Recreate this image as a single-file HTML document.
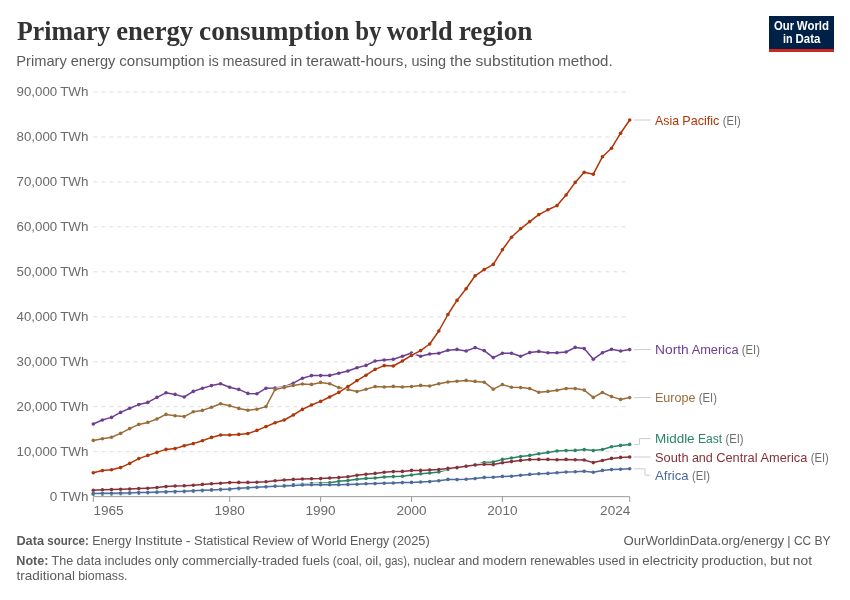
<!DOCTYPE html>
<html lang="en"><head><meta charset="utf-8"><title>Primary energy consumption by world region</title>
<style>html,body{margin:0;padding:0;background:#fff}svg{display:block}text{font-family:'Liberation Sans', sans-serif;white-space:pre}</style>
</head><body>
<svg width="850" height="600" viewBox="0 0 850 600">
<rect width="850" height="600" fill="#fff"/>
<text y="39.9" style="font-family:'Liberation Serif', serif"><tspan font-size="27" font-weight="700" fill="#333333"><tspan x="17.00" textLength="93.27" lengthAdjust="spacingAndGlyphs">Primary</tspan> <tspan x="116.22" textLength="76.91" lengthAdjust="spacingAndGlyphs">energy</tspan> <tspan x="199.08" textLength="150.27" lengthAdjust="spacingAndGlyphs">consumption</tspan> <tspan x="355.30" textLength="26.22" lengthAdjust="spacingAndGlyphs">by</tspan> <tspan x="386.78" textLength="65.94" lengthAdjust="spacingAndGlyphs">world</tspan> <tspan x="458.67" textLength="73.92" lengthAdjust="spacingAndGlyphs">region</tspan></tspan></text>
<text y="66.2"><tspan font-size="15" font-weight="400" fill="#5b5b5b"><tspan x="16.30" textLength="50.55" lengthAdjust="spacingAndGlyphs">Primary</tspan> <tspan x="70.69" textLength="44.67" lengthAdjust="spacingAndGlyphs">energy</tspan> <tspan x="119.21" textLength="85.53" lengthAdjust="spacingAndGlyphs">consumption</tspan> <tspan x="208.58" textLength="10.11" lengthAdjust="spacingAndGlyphs">is</tspan> <tspan x="222.53" textLength="64.05" lengthAdjust="spacingAndGlyphs">measured</tspan> <tspan x="290.43" textLength="11.98" lengthAdjust="spacingAndGlyphs">in</tspan> <tspan x="306.25" textLength="101.44" lengthAdjust="spacingAndGlyphs">terawatt-hours,</tspan> <tspan x="411.53" textLength="34.64" lengthAdjust="spacingAndGlyphs">using</tspan> <tspan x="450.02" textLength="21.67" lengthAdjust="spacingAndGlyphs">the</tspan> <tspan x="475.53" textLength="78.86" lengthAdjust="spacingAndGlyphs">substitution</tspan> <tspan x="558.24" textLength="54.41" lengthAdjust="spacingAndGlyphs">method.</tspan></tspan></text>
<g><rect x="769" y="16" width="65" height="36" fill="#002147"/><rect x="769" y="49" width="65" height="3" fill="#ce261e"/>
<text y="30.3"><tspan font-size="12" font-weight="700" fill="#ffffff"><tspan x="773.98" textLength="20.08" lengthAdjust="spacingAndGlyphs">Our</tspan> <tspan x="796.83" textLength="32.19" lengthAdjust="spacingAndGlyphs">World</tspan></tspan></text>
<text y="42.6"><tspan font-size="12" font-weight="700" fill="#ffffff"><tspan x="783.06" textLength="9.56" lengthAdjust="spacingAndGlyphs">in</tspan> <tspan x="795.47" textLength="24.88" lengthAdjust="spacingAndGlyphs">Data</tspan></tspan></text>
</g>
<g stroke="#ddd" stroke-width="1" stroke-dasharray="4 4" fill="none">
<line x1="93.5" y1="451.7" x2="629.7" y2="451.7"/>
<line x1="93.5" y1="406.7" x2="629.7" y2="406.7"/>
<line x1="93.5" y1="361.8" x2="629.7" y2="361.8"/>
<line x1="93.5" y1="316.8" x2="629.7" y2="316.8"/>
<line x1="93.5" y1="271.8" x2="629.7" y2="271.8"/>
<line x1="93.5" y1="226.9" x2="629.7" y2="226.9"/>
<line x1="93.5" y1="181.9" x2="629.7" y2="181.9"/>
<line x1="93.5" y1="137.0" x2="629.7" y2="137.0"/>
<line x1="93.5" y1="92.0" x2="629.7" y2="92.0"/>
</g>
<text y="500.5"><tspan font-size="13.4" font-weight="400" fill="#6a6a6a"><tspan x="49.67" textLength="7.55" lengthAdjust="spacingAndGlyphs">0</tspan> <tspan x="60.17" textLength="28.33" lengthAdjust="spacingAndGlyphs">TWh</tspan></tspan></text>
<text y="455.6"><tspan font-size="13.4" font-weight="400" fill="#6a6a6a"><tspan x="16.56" textLength="40.66" lengthAdjust="spacingAndGlyphs">10,000</tspan> <tspan x="60.17" textLength="28.33" lengthAdjust="spacingAndGlyphs">TWh</tspan></tspan></text>
<text y="410.6"><tspan font-size="13.4" font-weight="400" fill="#6a6a6a"><tspan x="16.56" textLength="40.66" lengthAdjust="spacingAndGlyphs">20,000</tspan> <tspan x="60.17" textLength="28.33" lengthAdjust="spacingAndGlyphs">TWh</tspan></tspan></text>
<text y="365.7"><tspan font-size="13.4" font-weight="400" fill="#6a6a6a"><tspan x="16.56" textLength="40.66" lengthAdjust="spacingAndGlyphs">30,000</tspan> <tspan x="60.17" textLength="28.33" lengthAdjust="spacingAndGlyphs">TWh</tspan></tspan></text>
<text y="320.7"><tspan font-size="13.4" font-weight="400" fill="#6a6a6a"><tspan x="16.56" textLength="40.66" lengthAdjust="spacingAndGlyphs">40,000</tspan> <tspan x="60.17" textLength="28.33" lengthAdjust="spacingAndGlyphs">TWh</tspan></tspan></text>
<text y="275.7"><tspan font-size="13.4" font-weight="400" fill="#6a6a6a"><tspan x="16.56" textLength="40.66" lengthAdjust="spacingAndGlyphs">50,000</tspan> <tspan x="60.17" textLength="28.33" lengthAdjust="spacingAndGlyphs">TWh</tspan></tspan></text>
<text y="230.8"><tspan font-size="13.4" font-weight="400" fill="#6a6a6a"><tspan x="16.56" textLength="40.66" lengthAdjust="spacingAndGlyphs">60,000</tspan> <tspan x="60.17" textLength="28.33" lengthAdjust="spacingAndGlyphs">TWh</tspan></tspan></text>
<text y="185.8"><tspan font-size="13.4" font-weight="400" fill="#6a6a6a"><tspan x="16.56" textLength="40.66" lengthAdjust="spacingAndGlyphs">70,000</tspan> <tspan x="60.17" textLength="28.33" lengthAdjust="spacingAndGlyphs">TWh</tspan></tspan></text>
<text y="140.9"><tspan font-size="13.4" font-weight="400" fill="#6a6a6a"><tspan x="16.56" textLength="40.66" lengthAdjust="spacingAndGlyphs">80,000</tspan> <tspan x="60.17" textLength="28.33" lengthAdjust="spacingAndGlyphs">TWh</tspan></tspan></text>
<text y="95.9"><tspan font-size="13.4" font-weight="400" fill="#6a6a6a"><tspan x="16.56" textLength="40.66" lengthAdjust="spacingAndGlyphs">90,000</tspan> <tspan x="60.17" textLength="28.33" lengthAdjust="spacingAndGlyphs">TWh</tspan></tspan></text>
<g stroke="#999" stroke-width="1" fill="none"><line x1="93.3" y1="496.65" x2="629.7" y2="496.65"/>
<line x1="93.3" y1="496.65" x2="93.3" y2="501.9"/>
<line x1="229.7" y1="496.65" x2="229.7" y2="501.9"/>
<line x1="320.6" y1="496.65" x2="320.6" y2="501.9"/>
<line x1="411.5" y1="496.65" x2="411.5" y2="501.9"/>
<line x1="502.4" y1="496.65" x2="502.4" y2="501.9"/>
<line x1="629.7" y1="496.65" x2="629.7" y2="501.9"/>
</g>
<text y="514.7"><tspan font-size="13.4" font-weight="400" fill="#6a6a6a"><tspan x="93.50" textLength="30.17" lengthAdjust="spacingAndGlyphs">1965</tspan></tspan></text>
<text y="514.7"><tspan font-size="13.4" font-weight="400" fill="#6a6a6a"><tspan x="214.59" textLength="30.17" lengthAdjust="spacingAndGlyphs">1980</tspan></tspan></text>
<text y="514.7"><tspan font-size="13.4" font-weight="400" fill="#6a6a6a"><tspan x="305.50" textLength="30.17" lengthAdjust="spacingAndGlyphs">1990</tspan></tspan></text>
<text y="514.7"><tspan font-size="13.4" font-weight="400" fill="#6a6a6a"><tspan x="396.42" textLength="30.17" lengthAdjust="spacingAndGlyphs">2000</tspan></tspan></text>
<text y="514.7"><tspan font-size="13.4" font-weight="400" fill="#6a6a6a"><tspan x="487.33" textLength="30.17" lengthAdjust="spacingAndGlyphs">2010</tspan></tspan></text>
<text y="514.7"><tspan font-size="13.4" font-weight="400" fill="#6a6a6a"><tspan x="600.13" textLength="30.17" lengthAdjust="spacingAndGlyphs">2024</tspan></tspan></text>
<g fill="#2C8465" stroke="none"><polyline points="93.3,494.2 102.4,494.1 111.5,494.0 120.6,493.8 129.7,493.5 138.8,493.1 147.8,492.8 156.9,492.5 166.0,492.2 175.1,491.9 184.2,491.7 193.3,491.2 202.4,490.7 211.5,490.1 220.6,489.7 229.7,489.6 238.8,488.7 247.9,488.2 256.9,487.5 266.0,486.8 275.1,486.0 284.2,485.6 293.3,484.8 302.4,484.2 311.5,483.6 320.6,483.2 329.7,482.8 338.8,481.2 347.9,480.6 357.0,479.2 366.0,478.4 375.1,478.0 384.2,477.0 393.3,476.6 402.4,476.2 411.5,475.0 420.6,473.8 429.7,473.0 438.8,472.0 447.9,469.4 457.0,467.6 466.1,466.2 475.1,464.8 484.2,462.6 493.3,462.0 502.4,459.4 511.5,458.0 520.6,456.6 529.7,455.4 538.8,453.8 547.9,452.4 557.0,451.0 566.1,450.6 575.2,450.4 584.2,449.6 593.3,450.6 602.4,449.5 611.5,446.8 620.6,445.4 629.7,444.4" fill="none" stroke="#fff" stroke-width="3" stroke-linejoin="round" stroke-linecap="butt"/><polyline points="93.3,494.2 102.4,494.1 111.5,494.0 120.6,493.8 129.7,493.5 138.8,493.1 147.8,492.8 156.9,492.5 166.0,492.2 175.1,491.9 184.2,491.7 193.3,491.2 202.4,490.7 211.5,490.1 220.6,489.7 229.7,489.6 238.8,488.7 247.9,488.2 256.9,487.5 266.0,486.8 275.1,486.0 284.2,485.6 293.3,484.8 302.4,484.2 311.5,483.6 320.6,483.2 329.7,482.8 338.8,481.2 347.9,480.6 357.0,479.2 366.0,478.4 375.1,478.0 384.2,477.0 393.3,476.6 402.4,476.2 411.5,475.0 420.6,473.8 429.7,473.0 438.8,472.0 447.9,469.4 457.0,467.6 466.1,466.2 475.1,464.8 484.2,462.6 493.3,462.0 502.4,459.4 511.5,458.0 520.6,456.6 529.7,455.4 538.8,453.8 547.9,452.4 557.0,451.0 566.1,450.6 575.2,450.4 584.2,449.6 593.3,450.6 602.4,449.5 611.5,446.8 620.6,445.4 629.7,444.4" fill="none" stroke="#2C8465" stroke-width="1.5" stroke-linejoin="round" stroke-linecap="round"/>
<circle cx="93.3" cy="494.2" r="1.8"/><circle cx="102.4" cy="494.1" r="1.8"/><circle cx="111.5" cy="494.0" r="1.8"/><circle cx="120.6" cy="493.8" r="1.8"/><circle cx="129.7" cy="493.5" r="1.8"/><circle cx="138.8" cy="493.1" r="1.8"/><circle cx="147.8" cy="492.8" r="1.8"/><circle cx="156.9" cy="492.5" r="1.8"/><circle cx="166.0" cy="492.2" r="1.8"/><circle cx="175.1" cy="491.9" r="1.8"/><circle cx="184.2" cy="491.7" r="1.8"/><circle cx="193.3" cy="491.2" r="1.8"/><circle cx="202.4" cy="490.7" r="1.8"/><circle cx="211.5" cy="490.1" r="1.8"/><circle cx="220.6" cy="489.7" r="1.8"/><circle cx="229.7" cy="489.6" r="1.8"/><circle cx="238.8" cy="488.7" r="1.8"/><circle cx="247.9" cy="488.2" r="1.8"/><circle cx="256.9" cy="487.5" r="1.8"/><circle cx="266.0" cy="486.8" r="1.8"/><circle cx="275.1" cy="486.0" r="1.8"/><circle cx="284.2" cy="485.6" r="1.8"/><circle cx="293.3" cy="484.8" r="1.8"/><circle cx="302.4" cy="484.2" r="1.8"/><circle cx="311.5" cy="483.6" r="1.8"/><circle cx="320.6" cy="483.2" r="1.8"/><circle cx="329.7" cy="482.8" r="1.8"/><circle cx="338.8" cy="481.2" r="1.8"/><circle cx="347.9" cy="480.6" r="1.8"/><circle cx="357.0" cy="479.2" r="1.8"/><circle cx="366.0" cy="478.4" r="1.8"/><circle cx="375.1" cy="478.0" r="1.8"/><circle cx="384.2" cy="477.0" r="1.8"/><circle cx="393.3" cy="476.6" r="1.8"/><circle cx="402.4" cy="476.2" r="1.8"/><circle cx="411.5" cy="475.0" r="1.8"/><circle cx="420.6" cy="473.8" r="1.8"/><circle cx="429.7" cy="473.0" r="1.8"/><circle cx="438.8" cy="472.0" r="1.8"/><circle cx="447.9" cy="469.4" r="1.8"/><circle cx="457.0" cy="467.6" r="1.8"/><circle cx="466.1" cy="466.2" r="1.8"/><circle cx="475.1" cy="464.8" r="1.8"/><circle cx="484.2" cy="462.6" r="1.8"/><circle cx="493.3" cy="462.0" r="1.8"/><circle cx="502.4" cy="459.4" r="1.8"/><circle cx="511.5" cy="458.0" r="1.8"/><circle cx="520.6" cy="456.6" r="1.8"/><circle cx="529.7" cy="455.4" r="1.8"/><circle cx="538.8" cy="453.8" r="1.8"/><circle cx="547.9" cy="452.4" r="1.8"/><circle cx="557.0" cy="451.0" r="1.8"/><circle cx="566.1" cy="450.6" r="1.8"/><circle cx="575.2" cy="450.4" r="1.8"/><circle cx="584.2" cy="449.6" r="1.8"/><circle cx="593.3" cy="450.6" r="1.8"/><circle cx="602.4" cy="449.5" r="1.8"/><circle cx="611.5" cy="446.8" r="1.8"/><circle cx="620.6" cy="445.4" r="1.8"/><circle cx="629.7" cy="444.4" r="1.8"/>
</g>
<g fill="#6D3E91" stroke="none"><polyline points="93.3,424.0 102.4,420.0 111.5,417.4 120.6,412.4 129.7,408.2 138.8,404.6 147.8,402.4 156.9,397.4 166.0,392.8 175.1,394.4 184.2,397.0 193.3,391.4 202.4,388.2 211.5,385.6 220.6,383.8 229.7,387.2 238.8,389.4 247.9,393.4 256.9,393.8 266.0,388.2 275.1,388.0 284.2,386.8 293.3,383.2 302.4,378.2 311.5,375.6 320.6,375.6 329.7,375.4 338.8,373.2 347.9,371.0 357.0,367.8 366.0,365.4 375.1,361.0 384.2,360.0 393.3,359.2 402.4,356.2 411.5,353.0 420.6,356.2 429.7,354.0 438.8,353.2 447.9,350.2 457.0,349.4 466.1,351.0 475.1,347.6 484.2,350.6 493.3,357.6 502.4,353.2 511.5,353.2 520.6,356.2 529.7,352.6 538.8,351.4 547.9,352.8 557.0,352.8 566.1,352.0 575.2,347.4 584.2,348.6 593.3,359.2 602.4,352.8 611.5,349.2 620.6,351.0 629.7,349.6" fill="none" stroke="#fff" stroke-width="3" stroke-linejoin="round" stroke-linecap="butt"/><polyline points="93.3,424.0 102.4,420.0 111.5,417.4 120.6,412.4 129.7,408.2 138.8,404.6 147.8,402.4 156.9,397.4 166.0,392.8 175.1,394.4 184.2,397.0 193.3,391.4 202.4,388.2 211.5,385.6 220.6,383.8 229.7,387.2 238.8,389.4 247.9,393.4 256.9,393.8 266.0,388.2 275.1,388.0 284.2,386.8 293.3,383.2 302.4,378.2 311.5,375.6 320.6,375.6 329.7,375.4 338.8,373.2 347.9,371.0 357.0,367.8 366.0,365.4 375.1,361.0 384.2,360.0 393.3,359.2 402.4,356.2 411.5,353.0 420.6,356.2 429.7,354.0 438.8,353.2 447.9,350.2 457.0,349.4 466.1,351.0 475.1,347.6 484.2,350.6 493.3,357.6 502.4,353.2 511.5,353.2 520.6,356.2 529.7,352.6 538.8,351.4 547.9,352.8 557.0,352.8 566.1,352.0 575.2,347.4 584.2,348.6 593.3,359.2 602.4,352.8 611.5,349.2 620.6,351.0 629.7,349.6" fill="none" stroke="#6D3E91" stroke-width="1.5" stroke-linejoin="round" stroke-linecap="round"/>
<circle cx="93.3" cy="424.0" r="1.8"/><circle cx="102.4" cy="420.0" r="1.8"/><circle cx="111.5" cy="417.4" r="1.8"/><circle cx="120.6" cy="412.4" r="1.8"/><circle cx="129.7" cy="408.2" r="1.8"/><circle cx="138.8" cy="404.6" r="1.8"/><circle cx="147.8" cy="402.4" r="1.8"/><circle cx="156.9" cy="397.4" r="1.8"/><circle cx="166.0" cy="392.8" r="1.8"/><circle cx="175.1" cy="394.4" r="1.8"/><circle cx="184.2" cy="397.0" r="1.8"/><circle cx="193.3" cy="391.4" r="1.8"/><circle cx="202.4" cy="388.2" r="1.8"/><circle cx="211.5" cy="385.6" r="1.8"/><circle cx="220.6" cy="383.8" r="1.8"/><circle cx="229.7" cy="387.2" r="1.8"/><circle cx="238.8" cy="389.4" r="1.8"/><circle cx="247.9" cy="393.4" r="1.8"/><circle cx="256.9" cy="393.8" r="1.8"/><circle cx="266.0" cy="388.2" r="1.8"/><circle cx="275.1" cy="388.0" r="1.8"/><circle cx="284.2" cy="386.8" r="1.8"/><circle cx="293.3" cy="383.2" r="1.8"/><circle cx="302.4" cy="378.2" r="1.8"/><circle cx="311.5" cy="375.6" r="1.8"/><circle cx="320.6" cy="375.6" r="1.8"/><circle cx="329.7" cy="375.4" r="1.8"/><circle cx="338.8" cy="373.2" r="1.8"/><circle cx="347.9" cy="371.0" r="1.8"/><circle cx="357.0" cy="367.8" r="1.8"/><circle cx="366.0" cy="365.4" r="1.8"/><circle cx="375.1" cy="361.0" r="1.8"/><circle cx="384.2" cy="360.0" r="1.8"/><circle cx="393.3" cy="359.2" r="1.8"/><circle cx="402.4" cy="356.2" r="1.8"/><circle cx="411.5" cy="353.0" r="1.8"/><circle cx="420.6" cy="356.2" r="1.8"/><circle cx="429.7" cy="354.0" r="1.8"/><circle cx="438.8" cy="353.2" r="1.8"/><circle cx="447.9" cy="350.2" r="1.8"/><circle cx="457.0" cy="349.4" r="1.8"/><circle cx="466.1" cy="351.0" r="1.8"/><circle cx="475.1" cy="347.6" r="1.8"/><circle cx="484.2" cy="350.6" r="1.8"/><circle cx="493.3" cy="357.6" r="1.8"/><circle cx="502.4" cy="353.2" r="1.8"/><circle cx="511.5" cy="353.2" r="1.8"/><circle cx="520.6" cy="356.2" r="1.8"/><circle cx="529.7" cy="352.6" r="1.8"/><circle cx="538.8" cy="351.4" r="1.8"/><circle cx="547.9" cy="352.8" r="1.8"/><circle cx="557.0" cy="352.8" r="1.8"/><circle cx="566.1" cy="352.0" r="1.8"/><circle cx="575.2" cy="347.4" r="1.8"/><circle cx="584.2" cy="348.6" r="1.8"/><circle cx="593.3" cy="359.2" r="1.8"/><circle cx="602.4" cy="352.8" r="1.8"/><circle cx="611.5" cy="349.2" r="1.8"/><circle cx="620.6" cy="351.0" r="1.8"/><circle cx="629.7" cy="349.6" r="1.8"/>
</g>
<g fill="#996D39" stroke="none"><polyline points="93.3,440.4 102.4,438.8 111.5,437.2 120.6,433.4 129.7,428.6 138.8,424.4 147.8,422.4 156.9,419.0 166.0,414.4 175.1,415.8 184.2,416.6 193.3,411.8 202.4,410.4 211.5,407.2 220.6,403.8 229.7,405.8 238.8,408.4 247.9,410.2 256.9,409.2 266.0,406.6 275.1,389.4 284.2,387.6 293.3,385.4 302.4,384.0 311.5,384.4 320.6,382.4 329.7,383.8 338.8,387.6 347.9,389.4 357.0,391.6 366.0,389.2 375.1,386.6 384.2,387.0 393.3,386.4 402.4,387.0 411.5,386.6 420.6,385.4 429.7,386.0 438.8,383.8 447.9,382.0 457.0,381.2 466.1,380.4 475.1,381.4 484.2,382.2 493.3,389.2 502.4,384.6 511.5,387.2 520.6,387.6 529.7,388.6 538.8,392.2 547.9,391.4 557.0,390.2 566.1,388.6 575.2,388.6 584.2,390.1 593.3,397.4 602.4,392.5 611.5,396.6 620.6,399.4 629.7,397.6" fill="none" stroke="#fff" stroke-width="3" stroke-linejoin="round" stroke-linecap="butt"/><polyline points="93.3,440.4 102.4,438.8 111.5,437.2 120.6,433.4 129.7,428.6 138.8,424.4 147.8,422.4 156.9,419.0 166.0,414.4 175.1,415.8 184.2,416.6 193.3,411.8 202.4,410.4 211.5,407.2 220.6,403.8 229.7,405.8 238.8,408.4 247.9,410.2 256.9,409.2 266.0,406.6 275.1,389.4 284.2,387.6 293.3,385.4 302.4,384.0 311.5,384.4 320.6,382.4 329.7,383.8 338.8,387.6 347.9,389.4 357.0,391.6 366.0,389.2 375.1,386.6 384.2,387.0 393.3,386.4 402.4,387.0 411.5,386.6 420.6,385.4 429.7,386.0 438.8,383.8 447.9,382.0 457.0,381.2 466.1,380.4 475.1,381.4 484.2,382.2 493.3,389.2 502.4,384.6 511.5,387.2 520.6,387.6 529.7,388.6 538.8,392.2 547.9,391.4 557.0,390.2 566.1,388.6 575.2,388.6 584.2,390.1 593.3,397.4 602.4,392.5 611.5,396.6 620.6,399.4 629.7,397.6" fill="none" stroke="#996D39" stroke-width="1.5" stroke-linejoin="round" stroke-linecap="round"/>
<circle cx="93.3" cy="440.4" r="1.8"/><circle cx="102.4" cy="438.8" r="1.8"/><circle cx="111.5" cy="437.2" r="1.8"/><circle cx="120.6" cy="433.4" r="1.8"/><circle cx="129.7" cy="428.6" r="1.8"/><circle cx="138.8" cy="424.4" r="1.8"/><circle cx="147.8" cy="422.4" r="1.8"/><circle cx="156.9" cy="419.0" r="1.8"/><circle cx="166.0" cy="414.4" r="1.8"/><circle cx="175.1" cy="415.8" r="1.8"/><circle cx="184.2" cy="416.6" r="1.8"/><circle cx="193.3" cy="411.8" r="1.8"/><circle cx="202.4" cy="410.4" r="1.8"/><circle cx="211.5" cy="407.2" r="1.8"/><circle cx="220.6" cy="403.8" r="1.8"/><circle cx="229.7" cy="405.8" r="1.8"/><circle cx="238.8" cy="408.4" r="1.8"/><circle cx="247.9" cy="410.2" r="1.8"/><circle cx="256.9" cy="409.2" r="1.8"/><circle cx="266.0" cy="406.6" r="1.8"/><circle cx="275.1" cy="389.4" r="1.8"/><circle cx="284.2" cy="387.6" r="1.8"/><circle cx="293.3" cy="385.4" r="1.8"/><circle cx="302.4" cy="384.0" r="1.8"/><circle cx="311.5" cy="384.4" r="1.8"/><circle cx="320.6" cy="382.4" r="1.8"/><circle cx="329.7" cy="383.8" r="1.8"/><circle cx="338.8" cy="387.6" r="1.8"/><circle cx="347.9" cy="389.4" r="1.8"/><circle cx="357.0" cy="391.6" r="1.8"/><circle cx="366.0" cy="389.2" r="1.8"/><circle cx="375.1" cy="386.6" r="1.8"/><circle cx="384.2" cy="387.0" r="1.8"/><circle cx="393.3" cy="386.4" r="1.8"/><circle cx="402.4" cy="387.0" r="1.8"/><circle cx="411.5" cy="386.6" r="1.8"/><circle cx="420.6" cy="385.4" r="1.8"/><circle cx="429.7" cy="386.0" r="1.8"/><circle cx="438.8" cy="383.8" r="1.8"/><circle cx="447.9" cy="382.0" r="1.8"/><circle cx="457.0" cy="381.2" r="1.8"/><circle cx="466.1" cy="380.4" r="1.8"/><circle cx="475.1" cy="381.4" r="1.8"/><circle cx="484.2" cy="382.2" r="1.8"/><circle cx="493.3" cy="389.2" r="1.8"/><circle cx="502.4" cy="384.6" r="1.8"/><circle cx="511.5" cy="387.2" r="1.8"/><circle cx="520.6" cy="387.6" r="1.8"/><circle cx="529.7" cy="388.6" r="1.8"/><circle cx="538.8" cy="392.2" r="1.8"/><circle cx="547.9" cy="391.4" r="1.8"/><circle cx="557.0" cy="390.2" r="1.8"/><circle cx="566.1" cy="388.6" r="1.8"/><circle cx="575.2" cy="388.6" r="1.8"/><circle cx="584.2" cy="390.1" r="1.8"/><circle cx="593.3" cy="397.4" r="1.8"/><circle cx="602.4" cy="392.5" r="1.8"/><circle cx="611.5" cy="396.6" r="1.8"/><circle cx="620.6" cy="399.4" r="1.8"/><circle cx="629.7" cy="397.6" r="1.8"/>
</g>
<g fill="#B13507" stroke="none"><polyline points="93.3,472.8 102.4,470.6 111.5,469.8 120.6,467.6 129.7,463.4 138.8,458.6 147.8,455.4 156.9,452.4 166.0,449.4 175.1,448.6 184.2,445.8 193.3,443.6 202.4,440.8 211.5,437.4 220.6,435.0 229.7,435.0 238.8,434.4 247.9,433.6 256.9,430.4 266.0,426.6 275.1,422.8 284.2,420.0 293.3,415.0 302.4,409.4 311.5,405.0 320.6,401.4 329.7,397.0 338.8,392.4 347.9,386.6 357.0,380.6 366.0,375.2 375.1,369.4 384.2,365.6 393.3,366.0 402.4,361.0 411.5,355.4 420.6,350.6 429.7,344.0 438.8,331.0 447.9,314.5 457.0,300.4 466.1,288.8 475.1,275.8 484.2,269.6 493.3,264.4 502.4,249.8 511.5,237.2 520.6,228.8 529.7,221.6 538.8,214.6 547.9,209.8 557.0,205.6 566.1,195.0 575.2,182.4 584.2,172.2 593.3,174.2 602.4,156.8 611.5,148.2 620.6,133.2 629.7,120.0" fill="none" stroke="#fff" stroke-width="3" stroke-linejoin="round" stroke-linecap="butt"/><polyline points="93.3,472.8 102.4,470.6 111.5,469.8 120.6,467.6 129.7,463.4 138.8,458.6 147.8,455.4 156.9,452.4 166.0,449.4 175.1,448.6 184.2,445.8 193.3,443.6 202.4,440.8 211.5,437.4 220.6,435.0 229.7,435.0 238.8,434.4 247.9,433.6 256.9,430.4 266.0,426.6 275.1,422.8 284.2,420.0 293.3,415.0 302.4,409.4 311.5,405.0 320.6,401.4 329.7,397.0 338.8,392.4 347.9,386.6 357.0,380.6 366.0,375.2 375.1,369.4 384.2,365.6 393.3,366.0 402.4,361.0 411.5,355.4 420.6,350.6 429.7,344.0 438.8,331.0 447.9,314.5 457.0,300.4 466.1,288.8 475.1,275.8 484.2,269.6 493.3,264.4 502.4,249.8 511.5,237.2 520.6,228.8 529.7,221.6 538.8,214.6 547.9,209.8 557.0,205.6 566.1,195.0 575.2,182.4 584.2,172.2 593.3,174.2 602.4,156.8 611.5,148.2 620.6,133.2 629.7,120.0" fill="none" stroke="#B13507" stroke-width="1.5" stroke-linejoin="round" stroke-linecap="round"/>
<circle cx="93.3" cy="472.8" r="1.8"/><circle cx="102.4" cy="470.6" r="1.8"/><circle cx="111.5" cy="469.8" r="1.8"/><circle cx="120.6" cy="467.6" r="1.8"/><circle cx="129.7" cy="463.4" r="1.8"/><circle cx="138.8" cy="458.6" r="1.8"/><circle cx="147.8" cy="455.4" r="1.8"/><circle cx="156.9" cy="452.4" r="1.8"/><circle cx="166.0" cy="449.4" r="1.8"/><circle cx="175.1" cy="448.6" r="1.8"/><circle cx="184.2" cy="445.8" r="1.8"/><circle cx="193.3" cy="443.6" r="1.8"/><circle cx="202.4" cy="440.8" r="1.8"/><circle cx="211.5" cy="437.4" r="1.8"/><circle cx="220.6" cy="435.0" r="1.8"/><circle cx="229.7" cy="435.0" r="1.8"/><circle cx="238.8" cy="434.4" r="1.8"/><circle cx="247.9" cy="433.6" r="1.8"/><circle cx="256.9" cy="430.4" r="1.8"/><circle cx="266.0" cy="426.6" r="1.8"/><circle cx="275.1" cy="422.8" r="1.8"/><circle cx="284.2" cy="420.0" r="1.8"/><circle cx="293.3" cy="415.0" r="1.8"/><circle cx="302.4" cy="409.4" r="1.8"/><circle cx="311.5" cy="405.0" r="1.8"/><circle cx="320.6" cy="401.4" r="1.8"/><circle cx="329.7" cy="397.0" r="1.8"/><circle cx="338.8" cy="392.4" r="1.8"/><circle cx="347.9" cy="386.6" r="1.8"/><circle cx="357.0" cy="380.6" r="1.8"/><circle cx="366.0" cy="375.2" r="1.8"/><circle cx="375.1" cy="369.4" r="1.8"/><circle cx="384.2" cy="365.6" r="1.8"/><circle cx="393.3" cy="366.0" r="1.8"/><circle cx="402.4" cy="361.0" r="1.8"/><circle cx="411.5" cy="355.4" r="1.8"/><circle cx="420.6" cy="350.6" r="1.8"/><circle cx="429.7" cy="344.0" r="1.8"/><circle cx="438.8" cy="331.0" r="1.8"/><circle cx="447.9" cy="314.5" r="1.8"/><circle cx="457.0" cy="300.4" r="1.8"/><circle cx="466.1" cy="288.8" r="1.8"/><circle cx="475.1" cy="275.8" r="1.8"/><circle cx="484.2" cy="269.6" r="1.8"/><circle cx="493.3" cy="264.4" r="1.8"/><circle cx="502.4" cy="249.8" r="1.8"/><circle cx="511.5" cy="237.2" r="1.8"/><circle cx="520.6" cy="228.8" r="1.8"/><circle cx="529.7" cy="221.6" r="1.8"/><circle cx="538.8" cy="214.6" r="1.8"/><circle cx="547.9" cy="209.8" r="1.8"/><circle cx="557.0" cy="205.6" r="1.8"/><circle cx="566.1" cy="195.0" r="1.8"/><circle cx="575.2" cy="182.4" r="1.8"/><circle cx="584.2" cy="172.2" r="1.8"/><circle cx="593.3" cy="174.2" r="1.8"/><circle cx="602.4" cy="156.8" r="1.8"/><circle cx="611.5" cy="148.2" r="1.8"/><circle cx="620.6" cy="133.2" r="1.8"/><circle cx="629.7" cy="120.0" r="1.8"/>
</g>
<g fill="#883039" stroke="none"><polyline points="93.3,490.2 102.4,489.8 111.5,489.6 120.6,489.2 129.7,489.0 138.8,488.6 147.8,488.2 156.9,487.6 166.0,486.6 175.1,486.0 184.2,485.8 193.3,485.2 202.4,484.4 211.5,483.8 220.6,483.2 229.7,482.6 238.8,482.4 247.9,482.4 256.9,482.2 266.0,481.8 275.1,480.8 284.2,480.0 293.3,479.4 302.4,479.0 311.5,478.8 320.6,478.6 329.7,478.0 338.8,477.6 347.9,476.8 357.0,475.2 366.0,474.2 375.1,473.4 384.2,472.2 393.3,471.6 402.4,471.4 411.5,470.4 420.6,470.4 429.7,470.0 438.8,469.6 447.9,468.4 457.0,467.6 466.1,466.2 475.1,465.0 484.2,464.2 493.3,464.6 502.4,462.8 511.5,461.6 520.6,460.4 529.7,459.6 538.8,459.4 547.9,459.4 557.0,459.8 566.1,459.4 575.2,459.8 584.2,460.0 593.3,462.6 602.4,460.5 611.5,458.4 620.6,457.4 629.7,457.0" fill="none" stroke="#fff" stroke-width="3" stroke-linejoin="round" stroke-linecap="butt"/><polyline points="93.3,490.2 102.4,489.8 111.5,489.6 120.6,489.2 129.7,489.0 138.8,488.6 147.8,488.2 156.9,487.6 166.0,486.6 175.1,486.0 184.2,485.8 193.3,485.2 202.4,484.4 211.5,483.8 220.6,483.2 229.7,482.6 238.8,482.4 247.9,482.4 256.9,482.2 266.0,481.8 275.1,480.8 284.2,480.0 293.3,479.4 302.4,479.0 311.5,478.8 320.6,478.6 329.7,478.0 338.8,477.6 347.9,476.8 357.0,475.2 366.0,474.2 375.1,473.4 384.2,472.2 393.3,471.6 402.4,471.4 411.5,470.4 420.6,470.4 429.7,470.0 438.8,469.6 447.9,468.4 457.0,467.6 466.1,466.2 475.1,465.0 484.2,464.2 493.3,464.6 502.4,462.8 511.5,461.6 520.6,460.4 529.7,459.6 538.8,459.4 547.9,459.4 557.0,459.8 566.1,459.4 575.2,459.8 584.2,460.0 593.3,462.6 602.4,460.5 611.5,458.4 620.6,457.4 629.7,457.0" fill="none" stroke="#883039" stroke-width="1.5" stroke-linejoin="round" stroke-linecap="round"/>
<circle cx="93.3" cy="490.2" r="1.8"/><circle cx="102.4" cy="489.8" r="1.8"/><circle cx="111.5" cy="489.6" r="1.8"/><circle cx="120.6" cy="489.2" r="1.8"/><circle cx="129.7" cy="489.0" r="1.8"/><circle cx="138.8" cy="488.6" r="1.8"/><circle cx="147.8" cy="488.2" r="1.8"/><circle cx="156.9" cy="487.6" r="1.8"/><circle cx="166.0" cy="486.6" r="1.8"/><circle cx="175.1" cy="486.0" r="1.8"/><circle cx="184.2" cy="485.8" r="1.8"/><circle cx="193.3" cy="485.2" r="1.8"/><circle cx="202.4" cy="484.4" r="1.8"/><circle cx="211.5" cy="483.8" r="1.8"/><circle cx="220.6" cy="483.2" r="1.8"/><circle cx="229.7" cy="482.6" r="1.8"/><circle cx="238.8" cy="482.4" r="1.8"/><circle cx="247.9" cy="482.4" r="1.8"/><circle cx="256.9" cy="482.2" r="1.8"/><circle cx="266.0" cy="481.8" r="1.8"/><circle cx="275.1" cy="480.8" r="1.8"/><circle cx="284.2" cy="480.0" r="1.8"/><circle cx="293.3" cy="479.4" r="1.8"/><circle cx="302.4" cy="479.0" r="1.8"/><circle cx="311.5" cy="478.8" r="1.8"/><circle cx="320.6" cy="478.6" r="1.8"/><circle cx="329.7" cy="478.0" r="1.8"/><circle cx="338.8" cy="477.6" r="1.8"/><circle cx="347.9" cy="476.8" r="1.8"/><circle cx="357.0" cy="475.2" r="1.8"/><circle cx="366.0" cy="474.2" r="1.8"/><circle cx="375.1" cy="473.4" r="1.8"/><circle cx="384.2" cy="472.2" r="1.8"/><circle cx="393.3" cy="471.6" r="1.8"/><circle cx="402.4" cy="471.4" r="1.8"/><circle cx="411.5" cy="470.4" r="1.8"/><circle cx="420.6" cy="470.4" r="1.8"/><circle cx="429.7" cy="470.0" r="1.8"/><circle cx="438.8" cy="469.6" r="1.8"/><circle cx="447.9" cy="468.4" r="1.8"/><circle cx="457.0" cy="467.6" r="1.8"/><circle cx="466.1" cy="466.2" r="1.8"/><circle cx="475.1" cy="465.0" r="1.8"/><circle cx="484.2" cy="464.2" r="1.8"/><circle cx="493.3" cy="464.6" r="1.8"/><circle cx="502.4" cy="462.8" r="1.8"/><circle cx="511.5" cy="461.6" r="1.8"/><circle cx="520.6" cy="460.4" r="1.8"/><circle cx="529.7" cy="459.6" r="1.8"/><circle cx="538.8" cy="459.4" r="1.8"/><circle cx="547.9" cy="459.4" r="1.8"/><circle cx="557.0" cy="459.8" r="1.8"/><circle cx="566.1" cy="459.4" r="1.8"/><circle cx="575.2" cy="459.8" r="1.8"/><circle cx="584.2" cy="460.0" r="1.8"/><circle cx="593.3" cy="462.6" r="1.8"/><circle cx="602.4" cy="460.5" r="1.8"/><circle cx="611.5" cy="458.4" r="1.8"/><circle cx="620.6" cy="457.4" r="1.8"/><circle cx="629.7" cy="457.0" r="1.8"/>
</g>
<g fill="#4C6A9C" stroke="none"><polyline points="93.3,493.4 102.4,493.3 111.5,493.2 120.6,493.1 129.7,492.9 138.8,492.6 147.8,492.4 156.9,492.1 166.0,491.8 175.1,491.5 184.2,491.3 193.3,490.8 202.4,490.3 211.5,489.9 220.6,489.4 229.7,489.0 238.8,488.2 247.9,487.7 256.9,487.2 266.0,486.7 275.1,486.3 284.2,486.0 293.3,485.4 302.4,485.0 311.5,484.8 320.6,484.8 329.7,484.8 338.8,484.8 347.9,484.6 357.0,484.2 366.0,483.8 375.1,483.6 384.2,483.2 393.3,483.0 402.4,482.6 411.5,482.4 420.6,482.0 429.7,481.6 438.8,480.8 447.9,479.4 457.0,479.6 466.1,479.2 475.1,478.6 484.2,477.4 493.3,477.2 502.4,476.4 511.5,476.2 520.6,475.2 529.7,474.4 538.8,473.8 547.9,473.4 557.0,472.8 566.1,472.0 575.2,471.8 584.2,471.2 593.3,472.3 602.4,470.4 611.5,469.6 620.6,469.2 629.7,468.8" fill="none" stroke="#fff" stroke-width="3" stroke-linejoin="round" stroke-linecap="butt"/><polyline points="93.3,493.4 102.4,493.3 111.5,493.2 120.6,493.1 129.7,492.9 138.8,492.6 147.8,492.4 156.9,492.1 166.0,491.8 175.1,491.5 184.2,491.3 193.3,490.8 202.4,490.3 211.5,489.9 220.6,489.4 229.7,489.0 238.8,488.2 247.9,487.7 256.9,487.2 266.0,486.7 275.1,486.3 284.2,486.0 293.3,485.4 302.4,485.0 311.5,484.8 320.6,484.8 329.7,484.8 338.8,484.8 347.9,484.6 357.0,484.2 366.0,483.8 375.1,483.6 384.2,483.2 393.3,483.0 402.4,482.6 411.5,482.4 420.6,482.0 429.7,481.6 438.8,480.8 447.9,479.4 457.0,479.6 466.1,479.2 475.1,478.6 484.2,477.4 493.3,477.2 502.4,476.4 511.5,476.2 520.6,475.2 529.7,474.4 538.8,473.8 547.9,473.4 557.0,472.8 566.1,472.0 575.2,471.8 584.2,471.2 593.3,472.3 602.4,470.4 611.5,469.6 620.6,469.2 629.7,468.8" fill="none" stroke="#4C6A9C" stroke-width="1.5" stroke-linejoin="round" stroke-linecap="round"/>
<circle cx="93.3" cy="493.4" r="1.8"/><circle cx="102.4" cy="493.3" r="1.8"/><circle cx="111.5" cy="493.2" r="1.8"/><circle cx="120.6" cy="493.1" r="1.8"/><circle cx="129.7" cy="492.9" r="1.8"/><circle cx="138.8" cy="492.6" r="1.8"/><circle cx="147.8" cy="492.4" r="1.8"/><circle cx="156.9" cy="492.1" r="1.8"/><circle cx="166.0" cy="491.8" r="1.8"/><circle cx="175.1" cy="491.5" r="1.8"/><circle cx="184.2" cy="491.3" r="1.8"/><circle cx="193.3" cy="490.8" r="1.8"/><circle cx="202.4" cy="490.3" r="1.8"/><circle cx="211.5" cy="489.9" r="1.8"/><circle cx="220.6" cy="489.4" r="1.8"/><circle cx="229.7" cy="489.0" r="1.8"/><circle cx="238.8" cy="488.2" r="1.8"/><circle cx="247.9" cy="487.7" r="1.8"/><circle cx="256.9" cy="487.2" r="1.8"/><circle cx="266.0" cy="486.7" r="1.8"/><circle cx="275.1" cy="486.3" r="1.8"/><circle cx="284.2" cy="486.0" r="1.8"/><circle cx="293.3" cy="485.4" r="1.8"/><circle cx="302.4" cy="485.0" r="1.8"/><circle cx="311.5" cy="484.8" r="1.8"/><circle cx="320.6" cy="484.8" r="1.8"/><circle cx="329.7" cy="484.8" r="1.8"/><circle cx="338.8" cy="484.8" r="1.8"/><circle cx="347.9" cy="484.6" r="1.8"/><circle cx="357.0" cy="484.2" r="1.8"/><circle cx="366.0" cy="483.8" r="1.8"/><circle cx="375.1" cy="483.6" r="1.8"/><circle cx="384.2" cy="483.2" r="1.8"/><circle cx="393.3" cy="483.0" r="1.8"/><circle cx="402.4" cy="482.6" r="1.8"/><circle cx="411.5" cy="482.4" r="1.8"/><circle cx="420.6" cy="482.0" r="1.8"/><circle cx="429.7" cy="481.6" r="1.8"/><circle cx="438.8" cy="480.8" r="1.8"/><circle cx="447.9" cy="479.4" r="1.8"/><circle cx="457.0" cy="479.6" r="1.8"/><circle cx="466.1" cy="479.2" r="1.8"/><circle cx="475.1" cy="478.6" r="1.8"/><circle cx="484.2" cy="477.4" r="1.8"/><circle cx="493.3" cy="477.2" r="1.8"/><circle cx="502.4" cy="476.4" r="1.8"/><circle cx="511.5" cy="476.2" r="1.8"/><circle cx="520.6" cy="475.2" r="1.8"/><circle cx="529.7" cy="474.4" r="1.8"/><circle cx="538.8" cy="473.8" r="1.8"/><circle cx="547.9" cy="473.4" r="1.8"/><circle cx="557.0" cy="472.8" r="1.8"/><circle cx="566.1" cy="472.0" r="1.8"/><circle cx="575.2" cy="471.8" r="1.8"/><circle cx="584.2" cy="471.2" r="1.8"/><circle cx="593.3" cy="472.3" r="1.8"/><circle cx="602.4" cy="470.4" r="1.8"/><circle cx="611.5" cy="469.6" r="1.8"/><circle cx="620.6" cy="469.2" r="1.8"/><circle cx="629.7" cy="468.8" r="1.8"/>
</g>
<path d="M634,444.4 L639.5,444.4 L639.5,438.6 L650.5,438.6" fill="none" stroke="#ccc" stroke-width="1"/>
<text y="443.1"><tspan font-size="13" font-weight="400" fill="#2C8465"><tspan x="655.00" textLength="39.59" lengthAdjust="spacingAndGlyphs">Middle</tspan> <tspan x="697.92" textLength="24.19" lengthAdjust="spacingAndGlyphs">East</tspan></tspan> <tspan font-size="13" font-weight="400" fill="#6e6e6e"><tspan x="725.44" textLength="18.09" lengthAdjust="spacingAndGlyphs">(EI)</tspan></tspan></text>
<path d="M634,349.6 L650.5,349.6" fill="none" stroke="#ccc" stroke-width="1"/>
<text y="354.1"><tspan font-size="13" font-weight="400" fill="#6D3E91"><tspan x="655.00" textLength="33.75" lengthAdjust="spacingAndGlyphs">North</tspan> <tspan x="691.66" textLength="46.86" lengthAdjust="spacingAndGlyphs">America</tspan></tspan> <tspan font-size="13" font-weight="400" fill="#6e6e6e"><tspan x="741.84" textLength="18.09" lengthAdjust="spacingAndGlyphs">(EI)</tspan></tspan></text>
<path d="M634,397.6 L650.5,397.6" fill="none" stroke="#ccc" stroke-width="1"/>
<text y="402.1"><tspan font-size="13" font-weight="400" fill="#996D39"><tspan x="655.00" textLength="40.47" lengthAdjust="spacingAndGlyphs">Europe</tspan></tspan> <tspan font-size="13" font-weight="400" fill="#6e6e6e"><tspan x="698.80" textLength="18.09" lengthAdjust="spacingAndGlyphs">(EI)</tspan></tspan></text>
<path d="M634,120 L650.5,120" fill="none" stroke="#ccc" stroke-width="1"/>
<text y="124.7"><tspan font-size="13" font-weight="400" fill="#B13507"><tspan x="655.00" textLength="24.02" lengthAdjust="spacingAndGlyphs">Asia</tspan> <tspan x="682.34" textLength="37.05" lengthAdjust="spacingAndGlyphs">Pacific</tspan></tspan> <tspan font-size="13" font-weight="400" fill="#6e6e6e"><tspan x="722.72" textLength="18.09" lengthAdjust="spacingAndGlyphs">(EI)</tspan></tspan></text>
<path d="M634,457 L650.5,457" fill="none" stroke="#ccc" stroke-width="1"/>
<text y="461.5"><tspan font-size="13" font-weight="400" fill="#883039"><tspan x="655.00" textLength="33.55" lengthAdjust="spacingAndGlyphs">South</tspan> <tspan x="691.88" textLength="21.00" lengthAdjust="spacingAndGlyphs">and</tspan> <tspan x="716.20" textLength="41.41" lengthAdjust="spacingAndGlyphs">Central</tspan> <tspan x="760.52" textLength="46.86" lengthAdjust="spacingAndGlyphs">America</tspan></tspan> <tspan font-size="13" font-weight="400" fill="#6e6e6e"><tspan x="810.70" textLength="18.09" lengthAdjust="spacingAndGlyphs">(EI)</tspan></tspan></text>
<path d="M634,468.8 L645,468.8 L645,475.2 L650.5,475.2" fill="none" stroke="#ccc" stroke-width="1"/>
<text y="479.7"><tspan font-size="13" font-weight="400" fill="#4C6A9C"><tspan x="655.00" textLength="33.59" lengthAdjust="spacingAndGlyphs">Africa</tspan></tspan> <tspan font-size="13" font-weight="400" fill="#6e6e6e"><tspan x="691.92" textLength="18.09" lengthAdjust="spacingAndGlyphs">(EI)</tspan></tspan></text>
<text y="545.3"><tspan font-size="13" font-weight="700" fill="#5b5b5b"><tspan x="16.40" textLength="27.67" lengthAdjust="spacingAndGlyphs">Data</tspan> <tspan x="47.24" textLength="41.62" lengthAdjust="spacingAndGlyphs">source:</tspan></tspan> <tspan font-size="13" font-weight="400" fill="#5b5b5b"><tspan x="92.20" textLength="39.17" lengthAdjust="spacingAndGlyphs">Energy</tspan> <tspan x="134.70" textLength="47.84" lengthAdjust="spacingAndGlyphs">Institute</tspan> <tspan x="185.87" textLength="4.84" lengthAdjust="spacingAndGlyphs">-</tspan> <tspan x="194.04" textLength="55.19" lengthAdjust="spacingAndGlyphs">Statistical</tspan> <tspan x="252.56" textLength="41.02" lengthAdjust="spacingAndGlyphs">Review</tspan> <tspan x="296.90" textLength="11.55" lengthAdjust="spacingAndGlyphs">of</tspan> <tspan x="311.60" textLength="35.19" lengthAdjust="spacingAndGlyphs">World</tspan> <tspan x="350.12" textLength="39.17" lengthAdjust="spacingAndGlyphs">Energy</tspan> <tspan x="392.62" textLength="37.11" lengthAdjust="spacingAndGlyphs">(2025)</tspan></tspan></text>
<text y="545.3"><tspan font-size="13" font-weight="400" fill="#5b5b5b"><tspan x="623.47" textLength="160.58" lengthAdjust="spacingAndGlyphs">OurWorldinData.org/energy</tspan> <tspan x="787.37" textLength="3.27" lengthAdjust="spacingAndGlyphs">|</tspan> <tspan x="793.97" textLength="17.19" lengthAdjust="spacingAndGlyphs">CC</tspan> <tspan x="814.48" textLength="16.22" lengthAdjust="spacingAndGlyphs">BY</tspan></tspan></text>
<text y="565.1"><tspan font-size="13" font-weight="700" fill="#5b5b5b"><tspan x="16.30" textLength="32.23" lengthAdjust="spacingAndGlyphs">Note:</tspan></tspan> <tspan font-size="13" font-weight="400" fill="#5b5b5b"><tspan x="51.49" textLength="21.69" lengthAdjust="spacingAndGlyphs">The</tspan> <tspan x="76.50" textLength="24.78" lengthAdjust="spacingAndGlyphs">data</tspan> <tspan x="104.61" textLength="46.67" lengthAdjust="spacingAndGlyphs">includes</tspan> <tspan x="154.61" textLength="24.08" lengthAdjust="spacingAndGlyphs">only</tspan> <tspan x="182.02" textLength="116.81" lengthAdjust="spacingAndGlyphs">commercially-traded</tspan> <tspan x="302.16" textLength="27.38" lengthAdjust="spacingAndGlyphs">fuels</tspan> <tspan x="332.86" textLength="29.03" lengthAdjust="spacingAndGlyphs">(coal,</tspan> <tspan x="365.22" textLength="16.52" lengthAdjust="spacingAndGlyphs">oil,</tspan> <tspan x="385.07" textLength="25.00" lengthAdjust="spacingAndGlyphs">gas),</tspan> <tspan x="413.39" textLength="41.56" lengthAdjust="spacingAndGlyphs">nuclear</tspan> <tspan x="458.28" textLength="21.00" lengthAdjust="spacingAndGlyphs">and</tspan> <tspan x="482.61" textLength="44.20" lengthAdjust="spacingAndGlyphs">modern</tspan> <tspan x="530.14" textLength="64.83" lengthAdjust="spacingAndGlyphs">renewables</tspan> <tspan x="598.30" textLength="27.03" lengthAdjust="spacingAndGlyphs">used</tspan> <tspan x="628.66" textLength="10.38" lengthAdjust="spacingAndGlyphs">in</tspan> <tspan x="642.36" textLength="55.89" lengthAdjust="spacingAndGlyphs">electricity</tspan> <tspan x="701.58" textLength="65.45" lengthAdjust="spacingAndGlyphs">production,</tspan> <tspan x="770.36" textLength="19.20" lengthAdjust="spacingAndGlyphs">but</tspan> <tspan x="792.89" textLength="19.17" lengthAdjust="spacingAndGlyphs">not</tspan></tspan></text>
<text y="580.3"><tspan font-size="13" font-weight="400" fill="#5b5b5b"><tspan x="16.60" textLength="58.31" lengthAdjust="spacingAndGlyphs">traditional</tspan> <tspan x="78.24" textLength="49.27" lengthAdjust="spacingAndGlyphs">biomass.</tspan></tspan></text>
</svg></body></html>
